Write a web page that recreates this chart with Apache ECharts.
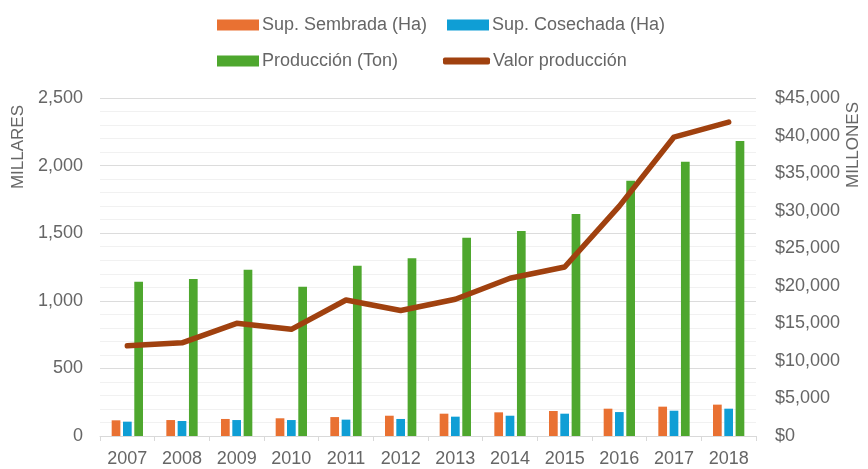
<!DOCTYPE html>
<html>
<head>
<meta charset="utf-8">
<script src="https://cdn.jsdelivr.net/npm/echarts@6/dist/echarts.min.js"></script>
<style>
html,body{margin:0;padding:0;background:#fff;}
#chart{width:868px;height:469px;}
</style>
</head>
<body>
<div id="chart"></div>
<script>
const categories = ['2007','2008','2009','2010','2011','2012','2013','2014','2015','2016','2017','2018'];
const supSembrada = [116, 118, 126, 131, 140, 150, 165, 175, 185, 202, 217, 232];
const supCosechada = [106, 111, 118, 118, 121, 126, 143, 150, 165, 177, 187, 202];
const produccion = [1140, 1161, 1230, 1104, 1260, 1314, 1467, 1516, 1642, 1888, 2029, 2182];
const valorProduccion = [12000, 12400, 15000, 14200, 18100, 16700, 18200, 21000, 22500, 30600, 39800, 41800];
const leftTicks = {min: 0, max: 2500, interval: 500};
const rightTicks = {min: 0, max: 45000, interval: 5000};

const names = ['Sup. Sembrada (Ha)', 'Sup. Cosechada (Ha)', 'Producción (Ton)', 'Valor producción'];
const gray = '#666666';
const legendFont = "'Liberation Sans',Arial,sans-serif";
const axisFont = "'Liberation Sans',Arial,sans-serif";

function fmtThousands(v){ return String(v).replace(/\B(?=(\d{3})+(?!\d))/g, ','); }

const chart = echarts.init(document.getElementById('chart'), null, {renderer:'canvas'});
function legendItem(name, left, top, w, h, icon){
  return {
    data: [name], left: left, top: top, padding: 0,
    itemWidth: w, itemHeight: h, icon: icon, itemGap: 0,
    textStyle: {fontFamily: legendFont, fontSize: 18, color: gray, padding: [0,0,0,-2]},
    selectedMode: false
  };
}
chart.setOption({
  animation: false,
  backgroundColor: '#ffffff',
  legend: [
    legendItem(names[0], 217, 16, 42, 11, 'rect'),
    legendItem(names[1], 447, 16, 42, 11, 'rect'),
    legendItem(names[2], 217, 52, 42, 11, 'rect'),
    legendItem(names[3], 443, 52, 47, 7, 'roundRect')
  ],
  grid: {left: 100, right: 112, top: 98, bottom: 33, containLabel: false},
  xAxis: {
    type: 'category', data: categories,
    axisLine: {lineStyle: {color: '#d9d9d9', width: 1}},
    axisTick: {show: true, length: 5, alignWithLabel: false, lineStyle: {color: '#d9d9d9'}},
    axisLabel: {color: gray, fontSize: 18, fontFamily: axisFont, margin: 14}
  },
  yAxis: [
    {
      type: 'value', min: leftTicks.min, max: leftTicks.max, interval: leftTicks.interval,
      axisLine: {show: false}, axisTick: {show: false},
      axisLabel: {color: gray, fontSize: 18, fontFamily: axisFont, margin: 17, formatter: v => fmtThousands(v)},
      splitLine: {show: true, lineStyle: {color: '#dcdcdc', width: 1}},
      minorTick: {show: false, splitNumber: 5},
      minorSplitLine: {show: true, lineStyle: {color: '#f1f1f1', width: 1}}
    },
    {
      type: 'value', min: rightTicks.min, max: rightTicks.max, interval: rightTicks.interval,
      axisLine: {show: false}, axisTick: {show: false},
      axisLabel: {color: gray, fontSize: 18, fontFamily: axisFont, margin: 19, formatter: v => '$' + fmtThousands(v)},
      splitLine: {show: false}
    }
  ],
  graphic: [
    {type: 'text', x: 18, y: 147, rotation: Math.PI/2,
     style: {text: 'MILLARES', fill: gray, font: "17px 'Liberation Sans', Arial, sans-serif", align: 'center', verticalAlign: 'middle'}},
    {type: 'text', x: 853, y: 145, rotation: Math.PI/2,
     style: {text: 'MILLONES', fill: gray, font: "17px 'Liberation Sans', Arial, sans-serif", align: 'center', verticalAlign: 'middle'}}
  ],
  series: [
    {name: names[0], type: 'bar', data: supSembrada, yAxisIndex: 0, barWidth: 8.7, barGap: '30%', itemStyle: {color: '#E97132'}},
    {name: names[1], type: 'bar', data: supCosechada, yAxisIndex: 0, barWidth: 8.7, barGap: '30%', itemStyle: {color: '#0F9ED5'}},
    {name: names[2], type: 'bar', data: produccion, yAxisIndex: 0, barWidth: 8.7, barGap: '30%', itemStyle: {color: '#4EA72E'}},
    {name: names[3], type: 'line', data: valorProduccion, yAxisIndex: 1, symbol: 'none', showSymbol: false, z: 5,
     lineStyle: {color: '#A0410F', width: 5.5, cap: 'round', join: 'round'}, itemStyle: {color: '#A0410F'}}
  ]
});
</script>
</body>
</html>
